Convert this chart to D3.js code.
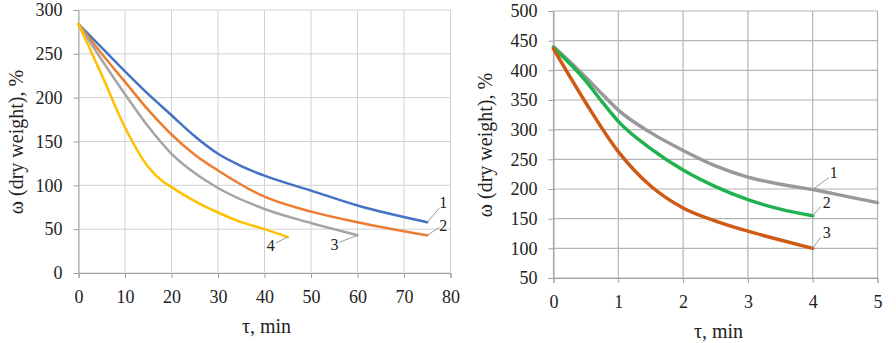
<!DOCTYPE html>
<html>
<head>
<meta charset="utf-8">
<script src="https://cdn.jsdelivr.net/npm/d3@7"></script>
<style>
  body { margin: 0; background: #fff; }
  svg text { font-family: "Liberation Serif", "Times New Roman", Tinos, "DejaVu Serif", serif; fill: #222; }
</style>
</head>
<body>
<svg id="mainsvg" width="896" height="343"></svg>
<script>
// left chart: drying curves, time in min
const leftTime1 = [0, 5, 10, 15, 20, 25, 30, 35, 40, 50, 60, 75];
const leftSeries1 = [284, 257, 230, 204, 180, 156, 136, 122, 111, 94, 77, 58];
const leftTime2 = [0, 5, 10, 15, 20, 25, 30, 40, 50, 60, 75];
const leftSeries2 = [284, 250, 218, 186, 158, 135, 117, 87, 70, 58, 43];
const leftTime3 = [0, 5, 10, 15, 20, 25, 30, 40, 50, 60];
const leftSeries3 = [284, 243, 204, 167, 136, 114, 97, 73, 57, 43];
const leftTime4 = [0, 5, 10, 15, 18, 20, 25, 30, 35, 40, 45];
const leftSeries4 = [284, 226, 166, 121, 105, 98, 82, 69, 58, 50, 41];
const leftXTicks = [0, 10, 20, 30, 40, 50, 60, 70, 80];
const leftYTicks = [0, 50, 100, 150, 200, 250, 300];

// right chart: time in min
const rightTime1 = [0, 0.5, 0.75, 1, 1.5, 2, 2.5, 3, 3.5, 4, 4.5, 5];
const rightSeries1 = [440, 388, 360, 333, 295, 265, 239, 220, 208, 199, 188, 177];
const rightTime2 = [0, 0.5, 0.75, 1, 1.5, 2, 2.5, 3, 3.5, 4];
const rightSeries2 = [438, 382, 347, 314, 268, 232, 204, 182, 166, 155];
const rightTime3 = [0, 0.5, 1, 1.5, 2, 2.5, 3, 3.5, 4];
const rightSeries3 = [436, 345, 263, 205, 168, 146, 129, 114, 100];
const rightXTicks = [0, 1, 2, 3, 4, 5];
const rightYTicks = [50, 100, 150, 200, 250, 300, 350, 400, 450, 500];

const svg = d3.select('#mainsvg');

function drawPanel(opt) {
    const g = svg.append('g').attr('transform', `translate(${opt.left}, ${opt.top})`);
    const x = d3.scaleLinear().domain(opt.xDomain).range([0, opt.w]);
    const y = d3.scaleLinear().domain(opt.yDomain).range([opt.h, 0]);

    // grid
    g.append('g').selectAll('line').data(opt.yTicks).join('line')
        .attr('x1', 0).attr('x2', opt.w)
        .attr('y1', d => y(d)).attr('y2', d => y(d))
        .attr('stroke', opt.grid).attr('stroke-width', opt.gw);
    g.append('g').selectAll('line').data(opt.xTicks).join('line')
        .attr('y1', 0).attr('y2', opt.h)
        .attr('x1', d => x(d)).attr('x2', d => x(d))
        .attr('stroke', opt.grid).attr('stroke-width', opt.gw);

    // axes
    const xAxis = d3.axisBottom(x).tickValues(opt.xTicks).tickSize(5).tickPadding(12).tickFormat(d3.format('d'));
    const yAxis = d3.axisLeft(y).tickValues(opt.yTicks).tickSize(5).tickPadding(11).tickFormat(d3.format('d'));
    const gx = g.append('g').attr('transform', `translate(0, ${opt.h})`).call(xAxis);
    const gy = g.append('g').call(yAxis);
    [gx, gy].forEach(a => {
        a.attr('font-family', null);
        a.select('.domain').attr('stroke', '#a0a0a0');
        a.selectAll('.tick line').attr('stroke', '#a0a0a0');
        a.selectAll('.tick text').attr('font-size', 18).attr('fill', '#222');
    });

    // curves
    const line = d3.line().x(d => x(d[0])).y(d => y(d[1])).curve(d3.curveMonotoneX);
    opt.series.forEach(s => {
        g.append('path').datum(d3.zip(s.t, s.v))
            .attr('d', line).attr('fill', 'none')
            .attr('stroke', s.color).attr('stroke-width', opt.lw)
            .attr('stroke-linecap', 'round');
        const px = x(s.t[s.lt]), py = y(s.v[s.lt]);
        g.append('line')
            .attr('x1', px).attr('y1', py)
            .attr('x2', px + s.dx).attr('y2', py + s.dy)
            .attr('stroke', '#9a9a9a').attr('stroke-width', 1);
        g.append('text').attr('x', px + s.dx + s.tx).attr('y', py + s.dy + s.ty)
            .attr('font-size', 16).attr('text-anchor', 'middle').text(s.label);
    });

    // labels
    g.append('text').attr('x', opt.xlx).attr('y', opt.h + 60)
        .attr('text-anchor', 'middle').attr('font-size', 20).text('τ, min');
    g.append('text')
        .attr('transform', `translate(${opt.ylx}, ${opt.yly}) rotate(-90)`)
        .attr('text-anchor', 'middle').attr('font-size', 20).text('ω (dry weight), %');
}

drawPanel({
    left: 78.5, top: 10, w: 372, h: 263,
    xDomain: [0, 80], yDomain: [0, 300],
    xTicks: leftXTicks, yTicks: leftYTicks, lw: 2.5,
    grid: '#d2d2d2', gw: 1,
    xlx: 188, ylx: -56, yly: 132,
    series: [
        { t: leftTime1, v: leftSeries1, color: '#4472c4', label: '1', lt: 11, dx: 12, dy: -14, tx: 4, ty: 0 },
        { t: leftTime2, v: leftSeries2, color: '#ed7d31', label: '2', lt: 10, dx: 12, dy: -8, tx: 4, ty: 4 },
        { t: leftTime3, v: leftSeries3, color: '#a5a5a5', label: '3', lt: 9, dx: -18, dy: 7, tx: -5, ty: 8 },
        { t: leftTime4, v: leftSeries4, color: '#ffc000', label: '4', lt: 10, dx: -12, dy: 6, tx: -5, ty: 8 }
    ]
});

drawPanel({
    left: 553.5, top: 11, w: 324, h: 267,
    xDomain: [0, 5], yDomain: [50, 500],
    xTicks: rightXTicks, yTicks: rightYTicks, lw: 3.5,
    grid: '#b4b4b4', gw: 1.2,
    xlx: 165, ylx: -62, yly: 134,
    series: [
        { t: rightTime1, v: rightSeries1, color: '#999999', label: '1', lt: 9, dx: 16, dy: -12, tx: 5, ty: 0 },
        { t: rightTime2, v: rightSeries2, color: '#1fb24f', label: '2', lt: 9, dx: 8, dy: -9, tx: 6, ty: 1 },
        { t: rightTime3, v: rightSeries3, color: '#cf5a16', label: '3', lt: 8, dx: 8, dy: -11, tx: 6, ty: 1 }
    ]
});
</script>
</body>
</html>
